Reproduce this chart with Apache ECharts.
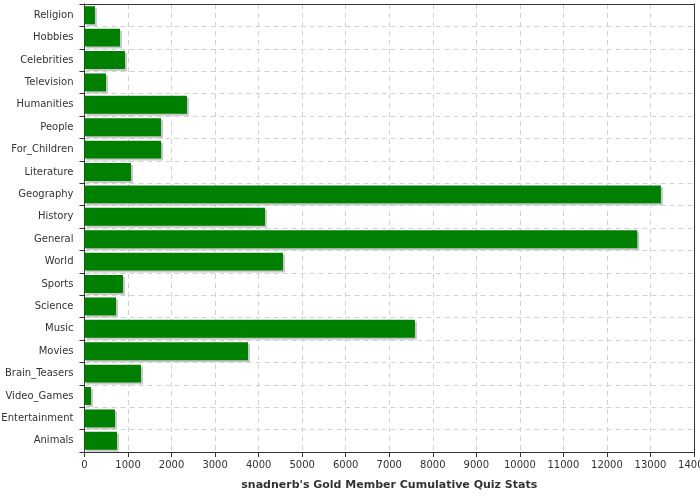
<!DOCTYPE html>
<html><head><meta charset="utf-8">
<script src="https://cdn.jsdelivr.net/npm/echarts@6/dist/echarts.min.js"></script>
<style>html,body{margin:0;padding:0;background:#fff}#c{width:700px;height:500px}</style>
</head><body><div id="c"></div>
<script>
var categories = ["Religion","Hobbies","Celebrities","Television","Humanities","People","For_Children","Literature","Geography","History","General","World","Sports","Science","Music","Movies","Brain_Teasers","Video_Games","Entertainment","Animals"];
var values = [240, 815, 930, 494, 2354, 1757, 1760, 1068, 13240, 4146, 12697, 4559, 884, 723, 7590, 3755, 1298, 149, 700, 746];
var xTicks = {min: 0, max: 14000, interval: 1000};
var titleText = "snadnerb's Gold Member Cumulative Quiz Stats";

var chart = echarts.init(document.getElementById('c'), null, {renderer: 'canvas'});
var frameLine = {show: true, onZero: false, lineStyle: {color: '#333', width: 1}};
chart.setOption({
  animation: false,
  grid: {left: 84.5, right: 6, top: 4, bottom: 48, containLabel: false, outerBoundsMode: 'none', show: false},
  xAxis: [{
    type: 'value', min: xTicks.min, max: xTicks.max, interval: xTicks.interval,
    name: titleText, nameLocation: 'middle', nameGap: 28,
    nameTextStyle: {fontFamily: 'DejaVu Sans', fontWeight: 'bold', fontSize: 11, color: '#333'},
    axisLine: frameLine,
    axisTick: {show: true, length: 5, lineStyle: {color: '#333'}},
    axisLabel: {fontFamily: 'DejaVu Sans', fontSize: 10, color: '#333', margin: 8,
                formatter: function (v) { return String(v); }},
    splitLine: {show: true, lineStyle: {color: '#ccd4d8', type: [5, 4], width: 1}},
    z: 0
  }, {
    type: 'value', position: 'top', min: xTicks.min, max: xTicks.max, interval: xTicks.interval,
    axisLine: frameLine, axisTick: {show: false}, axisLabel: {show: false}, splitLine: {show: false}, z: 5
  }],
  yAxis: [{
    type: 'category', data: categories, inverse: true,
    axisLine: frameLine,
    axisTick: {show: true, length: 5, lineStyle: {color: '#333'}},
    axisLabel: {fontFamily: 'DejaVu Sans', fontSize: 10, color: '#333', margin: 11},
    splitLine: {show: true, lineStyle: {color: '#ccd4d8', type: [5, 4], width: 1}},
    z: 0
  }, {
    type: 'category', data: categories, inverse: true, position: 'right',
    axisLine: frameLine, axisTick: {show: false}, axisLabel: {show: false}, splitLine: {show: false}, z: 5
  }],
  series: [{
    type: 'bar', data: values, barCategoryGap: '20%', xAxisIndex: 0, yAxisIndex: 0, z: 2,
    itemStyle: {color: '#008000', shadowColor: '#c8c8c8', shadowBlur: 0, shadowOffsetX: 2, shadowOffsetY: 2}
  }]
});
</script></body></html>
